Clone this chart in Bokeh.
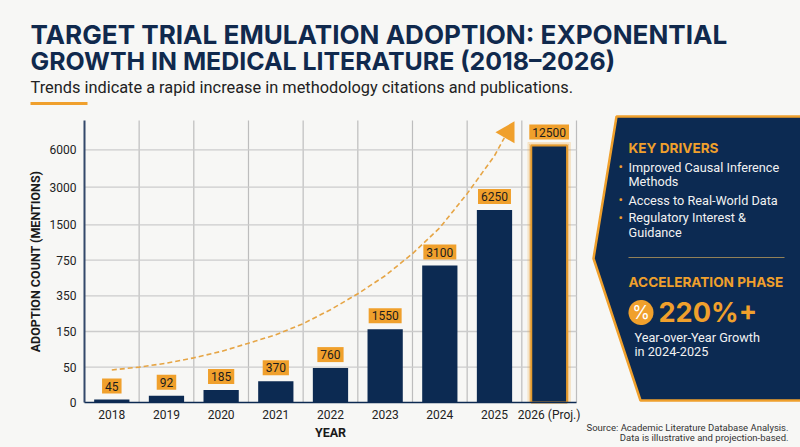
import numpy as np
from bokeh.embed import file_html
from bokeh.resources import INLINE
from bokeh.plotting import figure
from bokeh.models import ColumnDataSource, Range1d, FixedTicker, Label, LinearAxis

years = [2018, 2019, 2020, 2021, 2022, 2023, 2024, 2025, 2026]
value_labels = [45, 92, 185, 370, 760, 1550, 3100, 6250, 12500]
# Bar tops as they read on the printed (non-uniform) axis
bar_axis_readings = [4.2, 9.5, 17.5, 30, 48.6, 163, 689, 2085, 6344]
axis_ticks = [0, 50, 150, 350, 750, 1500, 3000, 6000]
x_tick_labels = {2026: "2026 (Proj.)"}
trend_years = [2018, 2018.5, 2019, 2019.5, 2020, 2020.5, 2021, 2021.5, 2022, 2022.5,
               2023, 2023.5, 2024, 2024.5, 2025, 2025.18]
trend_readings = [46, 50, 61, 76, 94, 117, 141, 194, 272, 373, 575, 887, 1437, 2740, 5520, 6960]

# The printed axis is neither linear nor log: piecewise scale
scale_values = axis_ticks + [8344]
scale_pos = [0, 35.4, 71, 106.7, 142.4, 177.7, 215.4, 252.7, 282]
def sy(v):
    return np.interp(v, scale_values, scale_pos)

BG = "#f7f7f5"; NAVY = "#0c2a52"; ORANGE = "#f0a02c"; INK = "#222222"
W, H = 800, 447
STEP = 54.67
X_LEFT = 2018 - 111.3 / STEP
YEAR_MIN, YEAR_MAX = 2017.5, 2026.5
YTOP = 282

p = figure(width=W, height=H, output_backend="svg", toolbar_location=None,
           x_range=Range1d(X_LEFT, X_LEFT + W / STEP), y_range=Range1d(-45, 402),
           x_axis_location=None, y_axis_location=None,
           min_border=0, background_fill_color=BG, border_fill_color=BG, outline_line_color=None)
p.xgrid.visible = False
p.ygrid.visible = False
p.extra_x_ranges["page"] = Range1d(0, W)
p.extra_y_ranges["page"] = Range1d(H, 0)

# grid
ypos = [float(sy(t)) for t in axis_ticks]
xg = [y + 0.5 for y in years]
p.segment(xg, 0, xg, YTOP, line_color="#bdbdbd", line_width=1.2)
p.segment(YEAR_MIN, ypos[1:], YEAR_MAX, ypos[1:], line_color="#cccccc", line_width=1.3)

# bars
tops = sy(bar_axis_readings)
src = ColumnDataSource(dict(x=years, top=tops))
p.vbar(x=years[-1], top=float(tops[-1]) + 3, width=0.78, bottom=0, color=ORANGE, alpha=0.16)
p.vbar(x=years[-1], top=float(tops[-1]) + 1.5, width=0.72, bottom=0, color=ORANGE, alpha=0.25)
p.vbar(x="x", top="top", width=0.645, bottom=0, source=src, fill_color=NAVY, line_color=None)
p.vbar(x=years[-1], top=float(tops[-1]), width=0.655, bottom=0, fill_color=NAVY,
       line_color="#e39a2e", line_width=2)

# axes
xaxis = LinearAxis(fixed_location=0, bounds=(YEAR_MIN, YEAR_MAX),
                   ticker=FixedTicker(ticks=years), major_label_overrides=x_tick_labels)
yaxis = LinearAxis(fixed_location=YEAR_MIN, bounds=(0, YTOP),
                   ticker=FixedTicker(ticks=ypos),
                   major_label_overrides={float(sy(t)): str(t) for t in axis_ticks})
for ax in (xaxis, yaxis):
    ax.major_tick_line_color = None
    ax.minor_tick_line_color = None
    ax.major_tick_out = 0
    ax.minor_tick_out = 0
    ax.major_label_text_font = "Roboto"
    ax.major_label_text_font_size = "12px"
    ax.major_label_text_color = INK
    ax.axis_label_text_font = "Roboto"
    ax.axis_label_text_font_style = "bold"
    ax.axis_label_text_font_size = "12.5px"
    ax.axis_label_text_color = "#1a1a1a"
xaxis.axis_label = "YEAR"
yaxis.axis_label = "ADOPTION COUNT (MENTIONS)"
xaxis.axis_line_color = NAVY
xaxis.axis_line_width = 1.5
yaxis.axis_line_color = "#33486a"
yaxis.axis_line_width = 2
xaxis.major_label_standoff = 5
yaxis.major_label_standoff = 8
xaxis.axis_label_standoff = 0
yaxis.axis_label_standoff = 4
p.add_layout(xaxis, "below")
p.add_layout(yaxis, "left")

# trend
p.line(trend_years, sy(trend_readings), line_color="#e6a545", line_width=1.6, line_dash=[5, 3])
p.scatter([2025.25], [float(sy(6960)) + 5.5], marker="triangle", size=22, angle=np.pi / 2,
          fill_color=ORANGE, line_color=None)

# value labels
for xv, top, v in zip(years, tops, value_labels):
    p.add_layout(Label(x=xv, y=float(top), text=str(v), y_offset=6,
                       text_align="center", text_baseline="bottom",
                       text_font="Roboto", text_font_size="12px", text_color="#1c1c1c",
                       background_fill_color=ORANGE, padding=(3, 3)))

def text(x, y, s, size, color=INK, font="Roboto", style="normal", align="left"):
    p.add_layout(Label(x=x, y=y, x_range_name="page", y_range_name="page", text=s,
                       text_font=font, text_font_size=f"{size}px", text_font_style=style,
                       text_color=color, text_align=align, text_baseline="middle"))

def poly(xs, ys, fill, line=None, lw=0, alpha=1.0):
    p.patch(list(xs), list(ys), x_range_name="page", y_range_name="page",
            fill_color=fill, fill_alpha=alpha, line_color=line, line_width=lw)

# heading
TITLE = "#10294d"
text(30, 34, "TARGET TRIAL EMULATION ADOPTION: EXPONENTIAL", 26.1, TITLE, "Inter", "bold")
text(30, 60, "GROWTH IN MEDICAL LITERATURE (2018–2026)", 24.9, TITLE, "Inter", "bold")
text(30, 87, "Trends indicate a rapid increase in methodology citations and publications.", 16.35, "#222222")
poly([30, 87, 87, 30], [101.5, 101.5, 104.5, 104.5], ORANGE)

# side panel
poly([616, 802, 802, 640, 593], [116, 116, 400, 400, 258], NAVY, ORANGE, 2.5)
WHITE = "#f2f2f2"
text(628, 147, "KEY DRIVERS", 13.6, ORANGE, "Inter", "bold")
for y in (166, 199, 217):
    text(618, y, "•", 13, ORANGE)
text(628, 167, "Improved Causal Inference", 12.7, WHITE)
text(628, 181, "Methods", 12.7, WHITE)
text(628, 199.5, "Access to Real-World Data", 12.7, WHITE)
text(628, 217, "Regulatory Interest &", 12.7, WHITE)
text(628, 232, "Guidance", 12.7, WHITE)
poly([628, 784, 784, 628], [256.6, 256.6, 257.6, 257.6], "#b5975a", alpha=0.8)
text(628, 281, "ACCELERATION PHASE", 13.6, ORANGE, "Inter", "bold")
t = np.linspace(0, 2 * np.pi, 48)
poly(640.5 + 12.5 * np.cos(t), 312 + 12.5 * np.sin(t), ORANGE)
text(640.5, 312, "%", 18, "#ffffff", "Inter", "normal", "center")
text(658, 312, "220%+", 27.2, ORANGE, "Inter", "bold")
text(634, 337, "Year-over-Year Growth", 12.7, WHITE)
text(634, 351, "in 2024-2025", 12.7, WHITE)

# source
text(788, 427, "Source: Academic Literature Database Analysis.", 9.5, "#333333", align="right")
text(788, 437, "Data is illustrative and projection-based.", 9.5, "#333333", align="right")

html = file_html(p, INLINE).replace("</head>", f"<style>html,body{{background:{BG}}}</style></head>")
open("out.html", "w").write(html)
